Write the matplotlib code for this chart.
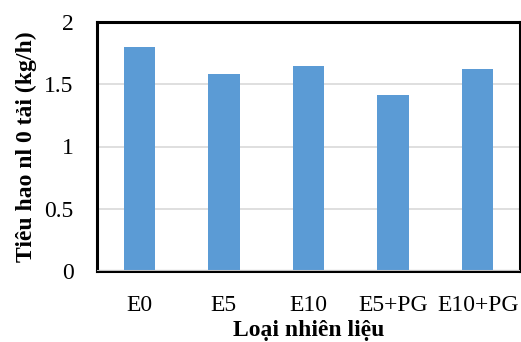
import matplotlib
matplotlib.use("Agg")
import matplotlib.pyplot as plt

categories = ["E0", "E5", "E10", "E5+PG", "E10+PG"]
consumption = [1.80, 1.58, 1.65, 1.41, 1.62]
y_ticks = [0, 0.5, 1, 1.5, 2]
y_tick_labels = ["0", "0.5", "1", "1.5", "2"]

plt.rcParams["font.family"] = ["Liberation Serif", "DejaVu Serif"]

fig = plt.figure(figsize=(5.21, 3.42), dpi=100)
ax = fig.add_axes([97 / 521, 1 - 271 / 342, 423 / 521, 249 / 342])

x = list(range(len(categories)))
ax.bar(x, consumption, width=0.37, color="#5b9bd5", zorder=3)

ax.set_xlim(-0.5, len(categories) - 0.5)
ax.set_ylim(0, 2)
ax.set_yticks(y_ticks)
ax.set_yticklabels(y_tick_labels)
ax.set_xticks(x)
ax.set_xticklabels(categories)
ax.tick_params(axis="both", length=0, labelsize=17)
ax.tick_params(axis="y", pad=17)
ax.tick_params(axis="x", pad=17)

for v in y_ticks[1:-1]:
    ax.axhline(v, color="#d9d9d9", linewidth=1.2, zorder=1)
ax.axhline(0, color="#bfbfbf", linewidth=1.5, zorder=4)

for s in ax.spines.values():
    s.set_color("black")
    s.set_linewidth(2.2)

ax.set_ylabel("Tiêu hao nl 0 tải (kg/h)", fontsize=17, fontweight="bold", labelpad=5)
ax.set_xlabel("Loại nhiên liệu", fontsize=17, fontweight="bold", labelpad=3)

fig.savefig("out.png", dpi=100)
